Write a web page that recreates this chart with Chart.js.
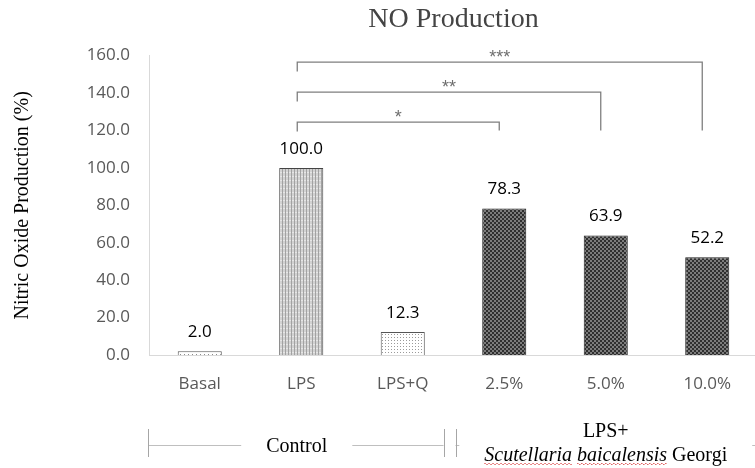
<!DOCTYPE html>
<html>
<head>
<meta charset="utf-8">
<title>NO Production</title>
<script src="https://cdn.jsdelivr.net/npm/chart.js@4"></script>
<style>
  html, body { margin: 0; padding: 0; background: #fff; overflow: hidden; }
</style>
</head>
<body>
<canvas id="noChart" width="758" height="468"></canvas>
<script>
const groups = ["Basal", "LPS", "LPS+Q", "2.5%", "5.0%", "10.0%"];
const noValues = [2.0, 100.0, 12.3, 78.3, 63.9, 52.2];
const yTicks = [0, 20, 40, 60, 80, 100, 120, 140, 160];

// significance brackets (LPS vs. each extract dose), heights in % units
const sigFrom = [1, 1, 1];
const sigTo = [3, 4, 5];
const sigLevel = [124.5, 140.5, 156.5];
const sigFoot = 120;
const sigMarks = ["*", "**", "***"];

// group captions under the axis
const controlLabel = "Control";
const extractLabel = ["LPS+", "Scutellaria baicalensis", "Georgi"];
const controlLast = 2;

const SANS = "'Open Sans', Lato, sans-serif";
const SERIF = "'Liberation Serif', 'Times New Roman', serif";

function tile(w, h, bg, marks) {
    const c = document.createElement("canvas");
    c.width = w;
    c.height = h;
    const g = c.getContext("2d");
    g.fillStyle = bg;
    g.fillRect(0, 0, w, h);
    marks.forEach(m => {
        g.fillStyle = m[4];
        g.fillRect(m[0], m[1], m[2], m[3]);
    });
    return g.createPattern(c, "repeat");
}

const fillBasal = tile(4, 3, "#ffffff", [[0, 0, 1, 1, "#8c8c8c"]]);
const fillLps = tile(3, 4, "#d2d2d2", [[0, 0, 1, 4, "#a2a2a2"], [1, 0, 2, 1, "#e6e6e6"]]);
const fillQ = tile(3, 3, "#ffffff", [[1, 1, 1, 1, "#9a9a9a"]]);
const fillDark = tile(4, 4, "#7c7c7c", [[0, 0, 2, 2, "#2f2f2f"], [2, 2, 2, 2, "#2f2f2f"]]);

const barFills = [fillBasal, fillLps, fillQ, fillDark, fillDark, fillDark];
const barEdges = ["#555555", "#444444", "#555555", "#1e1e1e", "#1e1e1e", "#1e1e1e"];

const valueLabels = {
    id: "valueLabels",
    afterDatasetsDraw(chart) {
        const ctx = chart.ctx;
        const meta = chart.getDatasetMeta(0);
        ctx.save();
        ctx.font = "17px " + SANS;
        ctx.fillStyle = "#000";
        ctx.textAlign = "center";
        ctx.textBaseline = "middle";
        meta.data.forEach((bar, i) => {
            ctx.fillText(noValues[i].toFixed(1), bar.x, bar.y - 19);
        });
        ctx.restore();
    }
};

const sigBrackets = {
    id: "sigBrackets",
    afterDatasetsDraw(chart) {
        const ctx = chart.ctx;
        const x = chart.scales.x;
        const y = chart.scales.y;
        ctx.save();
        ctx.strokeStyle = "#7f7f7f";
        ctx.lineWidth = 1.3;
        ctx.fillStyle = "#6e6e6e";
        ctx.font = "18px 'Liberation Sans', Arial, sans-serif";
        ctx.textAlign = "center";
        ctx.textBaseline = "middle";
        sigFrom.forEach((from, i) => {
            const x1 = x.getPixelForValue(from) - 4;
            const x2 = x.getPixelForValue(sigTo[i]) - 5;
            const top = y.getPixelForValue(sigLevel[i]);
            const leftFoot = y.getPixelForValue(sigLevel[i] - 5);
            const rightFoot = y.getPixelForValue(sigFoot);
            ctx.beginPath();
            ctx.moveTo(x1, leftFoot);
            ctx.lineTo(x1, top);
            ctx.lineTo(x2, top);
            ctx.lineTo(x2, rightFoot);
            ctx.stroke();
            ctx.fillText(sigMarks[i], (x1 + x2) / 2, top - 4);
        });
        ctx.restore();
    }
};

const groupCaptions = {
    id: "groupCaptions",
    afterDraw(chart) {
        const ctx = chart.ctx;
        const x = chart.scales.x;
        const left = chart.chartArea.left - 1;
        const right = chart.width;
        const split = (x.getPixelForValue(controlLast) + x.getPixelForValue(controlLast + 1)) / 2 - 4;
        const lineY = 445;
        const gap = 25;
        const size = "20px ";

        ctx.save();
        ctx.fillStyle = "#000";
        ctx.textBaseline = "alphabetic";
        ctx.textAlign = "left";

        // Control
        ctx.font = size + SERIF;
        const cw = ctx.measureText(controlLabel).width;
        const cx = (left + split) / 2 - 2;
        ctx.fillText(controlLabel, cx - cw / 2, lineY + 7);

        // LPS+ / Scutellaria baicalensis Georgi
        const ex = (split + right) / 2 + 2;
        const lw = ctx.measureText(extractLabel[0]).width;
        ctx.fillText(extractLabel[0], ex - lw / 2, lineY - 8);
        ctx.font = "italic " + size + SERIF;
        const iw = ctx.measureText(extractLabel[1] + " ").width;
        ctx.font = size + SERIF;
        const gw = ctx.measureText(extractLabel[2]).width;
        const sx = ex - (iw + gw) / 2;
        ctx.font = "italic " + size + SERIF;
        ctx.fillText(extractLabel[1], sx, lineY + 16);
        ctx.font = size + SERIF;
        ctx.fillText(extractLabel[2], sx + iw, lineY + 16);

        // spell-check squiggle under the italic words
        ctx.font = "italic " + size + SERIF;
        ctx.fillStyle = "#e06060";
        let wx = sx;
        extractLabel[1].split(" ").forEach(word => {
            const w = ctx.measureText(word).width;
            for (let p = wx; p < wx + w; p += 2) {
                ctx.fillRect(p, lineY + 18 + ((p - wx) % 4 < 2 ? 0 : 1), 1.5, 1);
            }
            wx += w + ctx.measureText(" ").width;
        });

        // rules and separators
        ctx.strokeStyle = "#bfbfbf";
        ctx.lineWidth = 1;
        const ew = iw + gw;
        ctx.beginPath();
        ctx.moveTo(left, lineY + 0.5);
        ctx.lineTo(cx - cw / 2 - gap, lineY + 0.5);
        ctx.moveTo(cx + cw / 2 + gap, lineY + 0.5);
        ctx.lineTo(split - 6, lineY + 0.5);
        ctx.moveTo(split + 6, lineY + 0.5);
        ctx.lineTo(sx - gap, lineY + 0.5);
        ctx.moveTo(sx + ew + gap, lineY + 0.5);
        ctx.lineTo(right, lineY + 0.5);
        ctx.stroke();

        ctx.strokeStyle = "#a6a6a6";
        ctx.beginPath();
        [left, split - 6, split + 6].forEach(px => {
            ctx.moveTo(Math.round(px) + 0.5, lineY - 16);
            ctx.lineTo(Math.round(px) + 0.5, lineY + 12);
        });
        ctx.stroke();
        ctx.restore();
    }
};

new Chart(document.getElementById("noChart"), {
    type: "bar",
    data: {
        labels: groups,
        datasets: [{
            data: noValues,
            backgroundColor: barFills,
            borderColor: barEdges,
            borderWidth: 1,
            barPercentage: 0.434,
            categoryPercentage: 1.0
        }]
    },
    options: {
        responsive: false,
        animation: false,
        devicePixelRatio: 1,
        layout: { padding: { left: 8, right: 0, top: 0, bottom: 0 } },
        plugins: {
            legend: { display: false },
            tooltip: { enabled: false },
            title: {
                display: true,
                text: "NO Production",
                fullSize: false,
                color: "#444444",
                font: { family: SERIF, size: 28, weight: "normal" },
                padding: { top: 3, bottom: 19 }
            }
        },
        scales: {
            x: {
                grid: { display: false, drawTicks: false },
                border: { color: "#d9d9d9", width: 1 },
                ticks: {
                    color: "#595959",
                    font: { family: SANS, size: 17 },
                    padding: 19,
                    maxRotation: 0,
                    autoSkip: false
                },
                afterFit(scale) { scale.height = 113; }
            },
            y: {
                min: 0,
                max: 160,
                grid: { display: false, drawTicks: false },
                border: { color: "#d9d9d9", width: 1 },
                afterBuildTicks(scale) { scale.ticks = yTicks.map(v => ({ value: v })); },
                ticks: {
                    color: "#595959",
                    font: { family: SANS, size: 17 },
                    padding: 19,
                    callback: v => v.toFixed(1)
                },
                title: {
                    display: true,
                    text: "Nitric Oxide Production (%)",
                    color: "#000",
                    font: { family: SERIF, size: 20 },
                    padding: { top: 3, bottom: 4 }
                },
                afterFit(scale) { scale.width = 141; }
            }
        }
    },
    plugins: [valueLabels, sigBrackets, groupCaptions]
});
</script>
</body>
</html>
